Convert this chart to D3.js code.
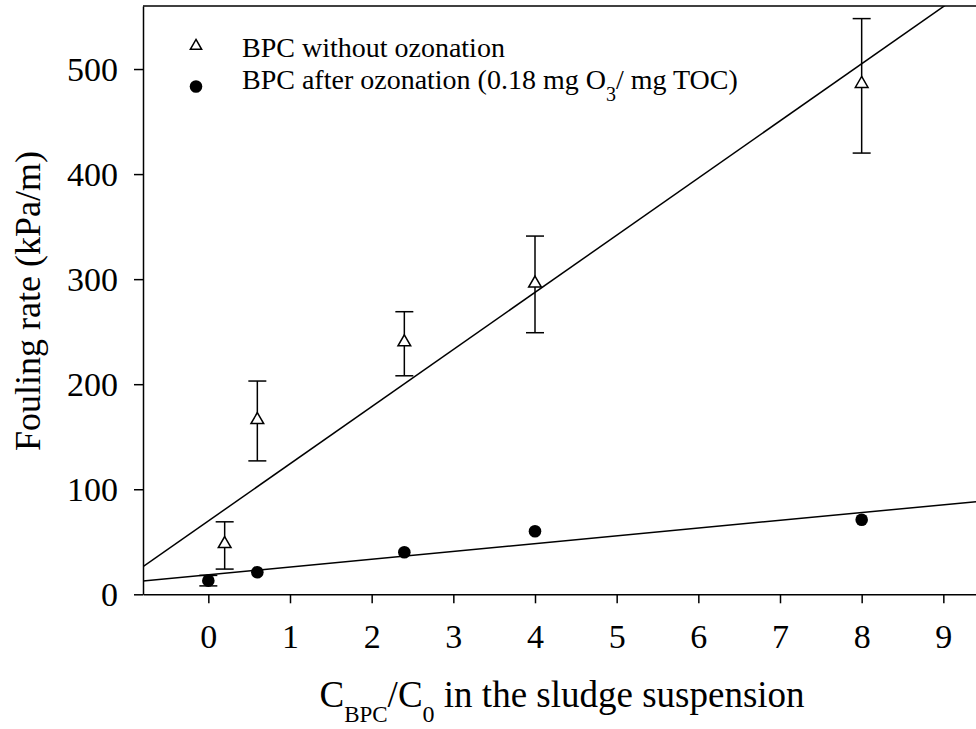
<!DOCTYPE html>
<html>
<head>
<meta charset="utf-8">
<script src="https://cdn.jsdelivr.net/npm/d3@7"></script>
<style>
  body { margin: 0; background: #fff; }
  svg { display: block; }
  text { font-family: "Liberation Serif", "Times New Roman", serif; fill: #000; }
</style>
</head>
<body>
<div class="graph-container"></div>
<script>
const svgWidth = 976;
const svgHeight = 729;

// BPC without ozonation (open triangles, with error bars)
const triX = [0.2, 0.6, 2.4, 4, 8];
const triY = [48, 166, 240, 296, 486];
const triHi = [69, 203, 269, 341, 548];
const triLo = [24, 127, 208, 249, 420];

// BPC after ozonation (filled circles)
const dotX = [0, 0.6, 2.4, 4, 8];
const dotY = [13, 21, 40, 60, 71];
const dotHi = [18, 21, 40, 60, 71];
const dotLo = [8, 21, 40, 60, 71];

// linear fits: [triangles, circles]
const fitIntercepts = [69.8, 18.6];
const fitSlopes = [54.4, 7.4];

const xTicks = [0, 1, 2, 3, 4, 5, 6, 7, 8, 9];
const yTicks = [0, 100, 200, 300, 400, 500];

const legendLabels = ["BPC without ozonation", "BPC after ozonation (0.18 mg O", "3", "/ mg TOC)"];

const plot = { left: 143, right: 976, top: 6, bottom: 594.3 };

const xScale = d3.scaleLinear()
    .domain([-0.8, 9.4])
    .range([plot.left, plot.right]);

const yScale = d3.scaleLinear()
    .domain([0, 560])
    .range([plot.bottom, plot.top]);

const svg = d3.select(".graph-container")
    .append("svg")
    .attr("width", svgWidth)
    .attr("height", svgHeight);

svg.append("defs").append("clipPath")
    .attr("id", "plot-clip")
    .append("rect")
    .attr("x", plot.left)
    .attr("y", plot.top)
    .attr("width", plot.right - plot.left)
    .attr("height", plot.bottom - plot.top);

// frame top line
svg.append("line")
    .attr("x1", plot.left).attr("x2", plot.right)
    .attr("y1", plot.top).attr("y2", plot.top)
    .attr("stroke", "#000").attr("stroke-width", 1.5);

// axes
const xAxis = d3.axisBottom(xScale)
    .tickValues(xTicks)
    .tickSize(9)
    .tickSizeOuter(0)
    .tickFormat(d3.format("d"));

const gx = svg.append("g")
    .attr("transform", `translate(0,${plot.bottom})`)
    .call(xAxis);
gx.select(".domain").attr("stroke-width", 1.5);
gx.selectAll(".tick line").attr("stroke-width", 1.5);
gx.selectAll(".tick text")
    .attr("y", 54)
    .attr("dy", 0)
    .style("font-size", "34px");

const yAxis = d3.axisLeft(yScale)
    .tickValues(yTicks)
    .tickSize(9)
    .tickSizeOuter(0);

const gy = svg.append("g")
    .attr("transform", `translate(${plot.left},0)`)
    .call(yAxis);
gy.select(".domain").attr("stroke-width", 1.5);
gy.selectAll(".tick line").attr("stroke-width", 1.5);
gy.selectAll(".tick text")
    .attr("x", -25)
    .attr("dy", "0.33em")
    .style("font-size", "34px");

// regression lines
const fitGroup = svg.append("g").attr("clip-path", "url(#plot-clip)");
const xEnds = xScale.domain();
fitIntercepts.forEach((b, i) => {
    fitGroup.append("line")
        .attr("x1", xScale(xEnds[0]))
        .attr("y1", yScale(b + fitSlopes[i] * xEnds[0]))
        .attr("x2", xScale(xEnds[1]))
        .attr("y2", yScale(b + fitSlopes[i] * xEnds[1]))
        .attr("stroke", "#000")
        .attr("stroke-width", 1.5);
});

// error bars
function drawErrors(xs, lo, hi) {
    const g = svg.append("g").attr("stroke", "#000").attr("stroke-width", 1.5);
    xs.forEach((x, i) => {
        if (hi[i] === lo[i]) return;
        const cx = xScale(x);
        g.append("line").attr("x1", cx).attr("x2", cx)
            .attr("y1", yScale(lo[i])).attr("y2", yScale(hi[i]));
        [lo[i], hi[i]].forEach(v => {
            g.append("line").attr("x1", cx - 9).attr("x2", cx + 9)
                .attr("y1", yScale(v)).attr("y2", yScale(v));
        });
    });
}
drawErrors(triX, triLo, triHi);
drawErrors(dotX, dotLo, dotHi);

const triangle = d3.symbol().type(d3.symbolTriangle).size(70);

svg.append("g").selectAll("path")
    .data(triY)
    .enter()
    .append("path")
    .attr("d", triangle)
    .attr("transform", (d, i) => `translate(${xScale(triX[i])},${yScale(d)})`)
    .attr("fill", "#fff")
    .attr("stroke", "#000")
    .attr("stroke-width", 1.5);

svg.append("g").selectAll("circle")
    .data(dotY)
    .enter()
    .append("circle")
    .attr("cx", (_, i) => xScale(dotX[i]))
    .attr("cy", d => yScale(d))
    .attr("r", 6.3)
    .attr("fill", "#000");

// legend
svg.append("path")
    .attr("d", d3.symbol().type(d3.symbolTriangle).size(55))
    .attr("transform", "translate(196,46)")
    .attr("fill", "#fff").attr("stroke", "#000").attr("stroke-width", 1.5);
svg.append("circle")
    .attr("cx", 196).attr("cy", 86.5).attr("r", 6.3).attr("fill", "#000");

svg.append("text")
    .attr("x", 242).attr("y", 56.5)
    .style("font-size", "28px")
    .text(legendLabels[0]);

const leg2 = svg.append("text")
    .attr("x", 242).attr("y", 89)
    .style("font-size", "28px");
leg2.append("tspan").text(legendLabels[1]);
leg2.append("tspan").attr("dy", 12).style("font-size", "20px").text(legendLabels[2]);
leg2.append("tspan").attr("dy", -12).text(legendLabels[3]);

// axis titles
svg.append("text")
    .attr("transform", "translate(40,301) rotate(-90)")
    .style("text-anchor", "middle")
    .style("font-size", "36px")
    .text("Fouling rate (kPa/m)");

const xt = svg.append("text")
    .attr("x", 562).attr("y", 707)
    .style("text-anchor", "middle")
    .style("font-size", "37px");
xt.append("tspan").text("C");
xt.append("tspan").attr("dy", 15).style("font-size", "23px").text("BPC");
xt.append("tspan").attr("dy", -15).text("/C");
xt.append("tspan").attr("dy", 15).style("font-size", "24px").text("0");
xt.append("tspan").attr("dy", -15).text(" in the sludge suspension");
</script>
</body>
</html>
